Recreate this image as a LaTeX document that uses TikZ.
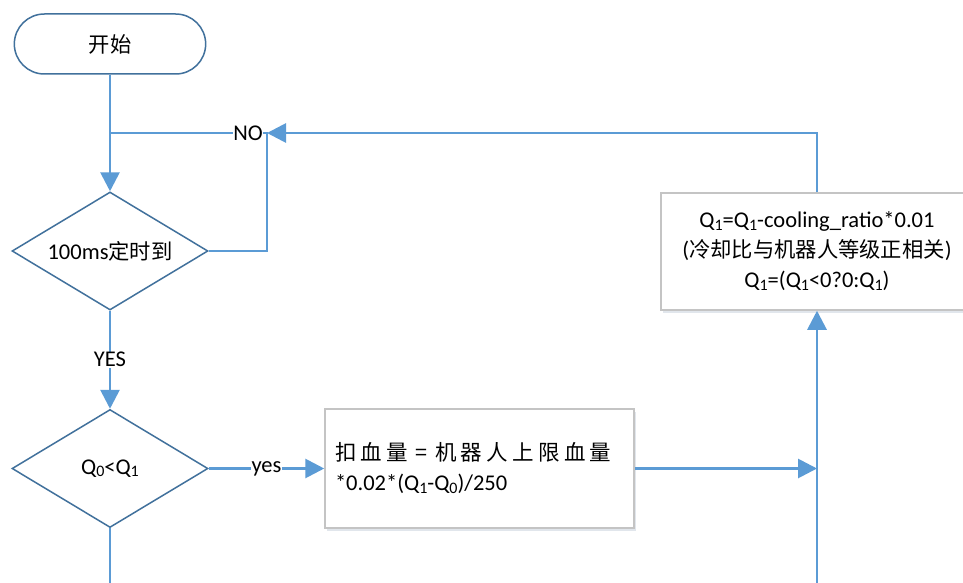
\documentclass[tikz,border=0pt]{standalone}
\usepackage{fontspec}
\setmainfont{Carlito}
\newfontfamily\cjk{Noto Sans CJK SC}
\newfontfamily\cjkwide[LetterSpace=20]{Noto Sans CJK SC}
\usetikzlibrary{shapes.geometric,shapes.misc,arrows.meta,shadows}
\definecolor{lineblue}{HTML}{5B9BD5}
\definecolor{edgeblue}{HTML}{41719C}
\definecolor{boxgray}{HTML}{C4C4C4}
\newcommand\zh[1]{{\cjk\fontsize{21.3}{24}\selectfont #1}}
\newcommand\qs[1]{\raisebox{-0.1em}{\fontsize{16}{16}\selectfont #1}}
\tikzset{
  term/.style={rounded rectangle, draw=edgeblue, line width=1.5pt, minimum width=198pt, minimum height=60pt, fill=white},
  decision/.style={diamond, aspect=1.66, draw=edgeblue, line width=1.5pt, minimum width=196pt, minimum height=118pt, inner sep=0pt, fill=white},
  procbox/.style={draw=boxgray, line width=1.5pt, fill=white, drop shadow={opacity=0.15, shadow xshift=2pt, shadow yshift=-3pt, fill=lineblue!60!black}},
  flow/.style={draw=lineblue, line width=2.8pt},
  arr/.style={flow, -{Triangle[length=19pt,width=19pt]}},
  lbl/.style={fill=white, inner sep=0.5pt, font=\fontsize{22.5}{26}\selectfont}
}
\begin{document}
\begin{tikzpicture}[x=1pt, y=-1pt, font=\fontsize{22.5}{28}\selectfont]
\useasboundingbox (0,0) rectangle (963,583);
\fill[white] (0,0) rectangle (963,583);
\node[term] (start) at (110,44) {\zh{开始}};
\node[decision] (d1) at (110,251) {100ms\zh{定时到}};
\node[decision] (d2) at (110,468.5) {Q\qs{0}<Q\qs{1}};
\node[procbox, text width=289pt, inner xsep=10pt, minimum height=119pt, align=left, font=\fontsize{22.5}{30}\selectfont] (b1) at (479.5,468.5)
  {{\cjkwide\fontsize{21.5}{26}\selectfont 扣血量 = 机器人上限血量}\\{}*0.02*(Q\qs{1}-Q\qs{0})/250};
\node[procbox, minimum width=312pt, minimum height=117pt, align=center, font=\fontsize{22.5}{30}\selectfont] (b2) at (817,251.5)
  {Q\qs{1}=Q\qs{1}-cooling\_ratio*0.01\\(\zh{冷却比与机器人等级正相关})\\Q\qs{1}=(Q\qs{1}<0?0:Q\qs{1})};
\coordinate (j1) at (110,133);
\coordinate (c1) at (267,133);
\coordinate (j2) at (817,468.5);
\coordinate (bl) at (110,583);
\coordinate (br) at (817,583);
\draw[arr] (start.south) -- (d1.north);
\draw[flow] (d1.east) -| (c1) -- node[lbl, pos=0.12]{NO} (j1);
\draw[arr] (b2.north) |- (c1);
\draw[arr] (d1.south) -- node[lbl]{YES} (d2.north);
\draw[arr] (d2.east) -- node[lbl]{yes} (b1.west);
\draw[arr] (b1.east) -- (j2);
\draw[arr] (br) -- (b2.south);
\draw[flow] (d2.south) -- (bl);
\end{tikzpicture}
\end{document}
